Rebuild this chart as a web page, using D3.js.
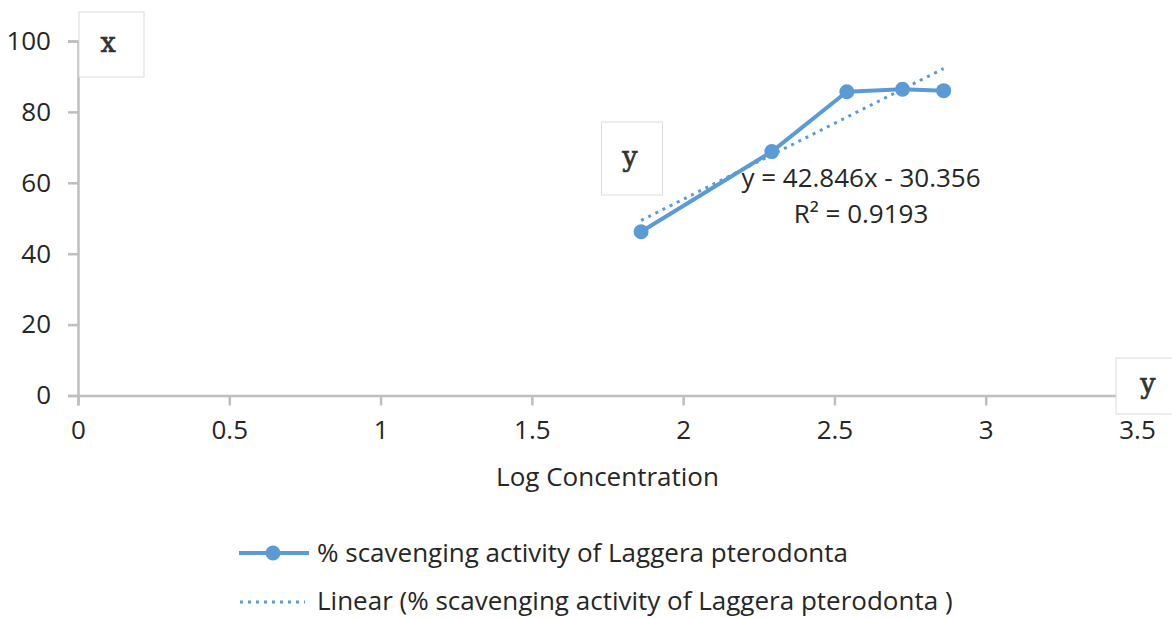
<!DOCTYPE html>
<html>
<head>
<meta charset="utf-8">
<script src="https://cdn.jsdelivr.net/npm/d3@7"></script>
<style>
  html, body { margin: 0; padding: 0; background: #fff; }
  svg { display: block; font-family: "Open Sans", sans-serif; }
</style>
</head>
<body>
<svg id="chart" width="1172" height="618"></svg>
<script>
// Data
const logConc = [1.861, 2.293, 2.541, 2.725, 2.861];
const scavenging = [46.2, 68.8, 85.7, 86.4, 86.0];
const trendSlope = 42.846;
const trendIntercept = -30.356;
const trendR2 = 0.9193;
const xTicks = [0, 0.5, 1, 1.5, 2, 2.5, 3, 3.5];
const yTicks = [0, 20, 40, 60, 80, 100];
const seriesName = '% scavenging activity of Laggera pterodonta';
const trendName = 'Linear (% scavenging activity of Laggera pterodonta )';
const xTitle = 'Log Concentration';

const blue = '#5b9bd5';
const axisGray = '#bfbfbf';
const textColor = '#262626';
const fontSize = 26;

const svg = d3.select('#chart');

const xScale = d3.scaleLinear().domain([0, 3.5]).range([78, 1137]);
const yScale = d3.scaleLinear().domain([0, 100]).range([395.5, 41]);

// y axis
const yAxis = d3.axisLeft(yScale).tickValues(yTicks).tickSize(10).tickPadding(17).tickFormat(d3.format('d'));
const gy = svg.append('g')
  .attr('transform', `translate(${xScale(0)},0)`)
  .call(yAxis);
gy.select('.domain').attr('stroke', axisGray).attr('stroke-width', 2.5);
gy.selectAll('.tick line').attr('stroke', axisGray).attr('stroke-width', 2.5);
gy.selectAll('.tick text')
  .attr('fill', textColor)
  .attr('font-size', fontSize)
  .attr('font-family', '"Open Sans", sans-serif');

// x axis
const xAxis = d3.axisBottom(xScale).tickValues(xTicks).tickSize(10).tickPadding(15).tickFormat(d => String(d));
const gx = svg.append('g')
  .attr('transform', `translate(0,${yScale(0)})`)
  .call(xAxis);
gx.select('.domain').attr('stroke', axisGray).attr('stroke-width', 2.5);
gx.selectAll('.tick line').attr('stroke', axisGray).attr('stroke-width', 2.5);
gx.selectAll('.tick text')
  .attr('fill', textColor)
  .attr('font-size', fontSize)
  .attr('font-family', '"Open Sans", sans-serif');

// x axis title
svg.append('text')
  .attr('x', (xScale(0) + xScale(3.5)) / 2)
  .attr('y', 486)
  .attr('text-anchor', 'middle')
  .attr('font-size', fontSize)
  .attr('fill', textColor)
  .text(xTitle);

// trendline (dotted) over the data range
const xExt = d3.extent(logConc);
const trendPts = xExt.map(x => [x, trendSlope * x + trendIntercept]);
svg.append('path')
  .datum(trendPts)
  .attr('fill', 'none')
  .attr('stroke', blue)
  .attr('stroke-width', 3)
  .attr('stroke-dasharray', '3,5')
  .attr('d', d3.line().x(d => xScale(d[0])).y(d => yScale(d[1])));

// series line
const pts = logConc.map((x, i) => [x, scavenging[i]]);
svg.append('path')
  .datum(pts)
  .attr('fill', 'none')
  .attr('stroke', blue)
  .attr('stroke-width', 4)
  .attr('stroke-linejoin', 'round')
  .attr('d', d3.line().x(d => xScale(d[0])).y(d => yScale(d[1])));

svg.selectAll('.dot')
  .data(pts)
  .enter().append('circle')
  .attr('class', 'dot')
  .attr('cx', d => xScale(d[0]))
  .attr('cy', d => yScale(d[1]))
  .attr('r', 7.5)
  .attr('fill', blue);

// trendline equation label
const eq = svg.append('text')
  .attr('text-anchor', 'middle')
  .attr('font-size', fontSize)
  .attr('fill', textColor);
eq.append('tspan').attr('x', 861).attr('y', 187)
  .text(`y = ${trendSlope}x - ${Math.abs(trendIntercept)}`);
eq.append('tspan').attr('x', 861).attr('y', 223)
  .text(`R² = ${trendR2}`);

// boxed letter annotations
const boxes = [
  { label: 'x', x: 79, y: 12, w: 65, h: 65, cx: 108 },
  { label: 'y', x: 601.5, y: 122, w: 61, h: 73, cx: 630 },
  { label: 'y', x: 1116, y: 358, w: 60, h: 56, cx: 1148 }
];
const bx = svg.selectAll('.box')
  .data(boxes)
  .enter().append('g')
  .attr('class', 'box');
bx.append('rect')
  .attr('x', d => d.x)
  .attr('y', d => d.y)
  .attr('width', d => d.w)
  .attr('height', d => d.h)
  .attr('fill', '#fff')
  .attr('stroke', '#dcdcdc')
  .attr('stroke-width', 1);
bx.append('text')
  .attr('x', d => d.cx)
  .attr('y', d => d.y + d.h / 2 + 7)
  .attr('text-anchor', 'middle')
  .attr('font-family', '"DejaVu Serif", serif')
  .attr('font-size', 27)
  .attr('fill', '#333')
  .attr('stroke', '#333')
  .attr('stroke-width', 0.7)
  .text(d => d.label);

// legend
const lg = svg.append('g');
lg.append('line')
  .attr('x1', 239).attr('x2', 309)
  .attr('y1', 553).attr('y2', 553)
  .attr('stroke', blue).attr('stroke-width', 4);
lg.append('circle')
  .attr('cx', 273).attr('cy', 553).attr('r', 7.5)
  .attr('fill', blue);
lg.append('text')
  .attr('x', 317).attr('y', 562)
  .attr('font-size', fontSize)
  .attr('fill', textColor)
  .text(seriesName);

lg.append('line')
  .attr('x1', 240).attr('x2', 305)
  .attr('y1', 602).attr('y2', 602)
  .attr('stroke', blue).attr('stroke-width', 3)
  .attr('stroke-dasharray', '3,5');
lg.append('text')
  .attr('x', 317).attr('y', 610)
  .attr('font-size', fontSize)
  .attr('fill', textColor)
  .text(trendName);
</script>
</body>
</html>
